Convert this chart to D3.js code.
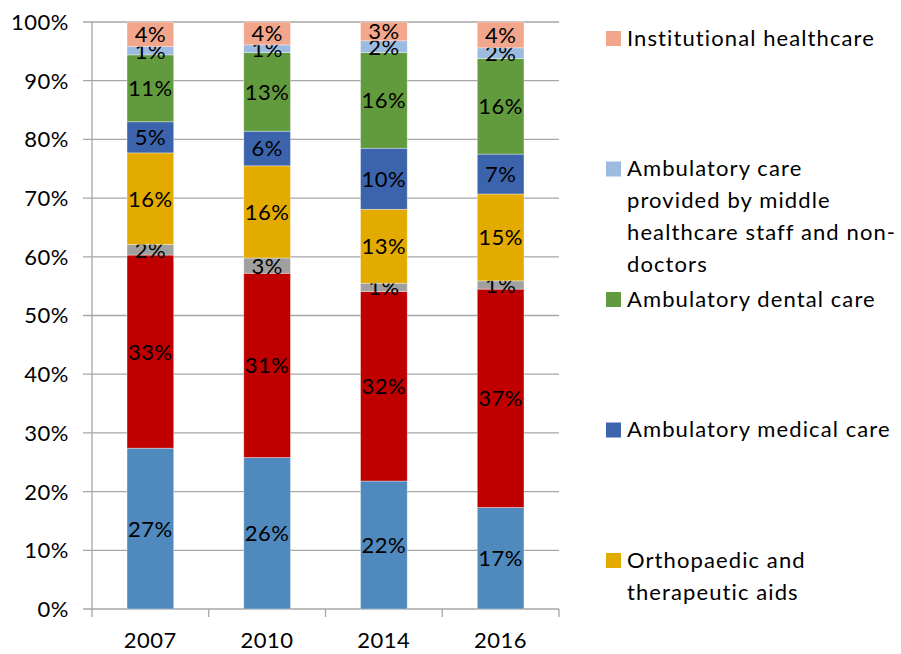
<!DOCTYPE html>
<html>
<head>
<meta charset="utf-8">
<script src="https://cdnjs.cloudflare.com/ajax/libs/d3/7.8.5/d3.min.js"></script>
<style>
  body { margin: 0; background: #fff; }
  svg text { font-family: Lato, "Open Sans", sans-serif; fill: #000; }
</style>
</head>
<body>
<svg id="chart" width="901" height="654"></svg>
<script>
// categories and series (bottom to top of stack)
var years = ["2007", "2010", "2014", "2016"];
var seriesKeys = ["base", "second", "third", "Orthopaedic and therapeutic aids",
  "Ambulatory medical care", "Ambulatory dental care",
  "Ambulatory care provided by middle healthcare staff and non-doctors",
  "Institutional healthcare"];
var seriesColors = ["#4F89BD", "#C00000", "#A0A0A0", "#E3AA00",
  "#3C64AC", "#629B3E", "#9BBBE0", "#F2A68B"];

// shares in % per year, same order as seriesKeys
var v2007 = [27.4, 32.9, 1.8, 15.6, 5.3, 11.4, 1.4, 4.2];
var v2010 = [25.8, 31.4, 2.6, 15.7, 5.9, 13.4, 1.3, 3.9];
var v2014 = [21.8, 32.3, 1.4, 12.6, 10.4, 16.3, 2.0, 3.2];
var v2016 = [17.3, 37.2, 1.4, 14.8, 6.8, 16.3, 1.8, 4.4];

var yTicks = [0, 10, 20, 30, 40, 50, 60, 70, 80, 90, 100];

// legend shows only the top five series, top first
var legendItems = [
  {key: "Institutional healthcare", lines: ["Institutional healthcare"]},
  {key: "Ambulatory care provided by middle healthcare staff and non-doctors",
    lines: ["Ambulatory care", "provided by middle", "healthcare staff and non-", "doctors"]},
  {key: "Ambulatory dental care", lines: ["Ambulatory dental care"]},
  {key: "Ambulatory medical care", lines: ["Ambulatory medical care"]},
  {key: "Orthopaedic and therapeutic aids", lines: ["Orthopaedic and", "therapeutic aids"]}
];

var allValues = [v2007, v2010, v2014, v2016];
var data = years.map(function (yr, i) {
  var row = {year: yr};
  seriesKeys.forEach(function (k, j) { row[k] = allValues[i][j]; });
  return row;
});

var margin = {top: 22, left: 92, right: 342, bottom: 45},
    width = 901 - margin.left - margin.right,
    height = 654 - margin.top - margin.bottom;

var svg = d3.select("#chart");
var g = svg.append("g").attr("transform", "translate(" + margin.left + "," + margin.top + ")");

var x = d3.scaleBand().domain(years).range([0, width]).paddingInner(0.6).paddingOuter(0.3);
var y = d3.scaleLinear().domain([0, 100]).range([height, 0]);
var color = d3.scaleOrdinal().domain(seriesKeys).range(seriesColors);

// gridlines (with little ticks left of the axis)
g.selectAll(".grid")
  .data(yTicks)
  .enter().append("line")
  .attr("x1", -9).attr("x2", width)
  .attr("y1", function (d) { return y(d); })
  .attr("y2", function (d) { return y(d); })
  .attr("stroke", "#A6A6A6")
  .attr("stroke-width", 1.3);

// y labels
g.selectAll(".ylab")
  .data(yTicks)
  .enter().append("text")
  .attr("x", -23)
  .attr("y", function (d) { return y(d); })
  .attr("dy", "0.36em")
  .attr("text-anchor", "end")
  .style("font-size", "22px")
  .style("letter-spacing", "0.5px")
  .text(function (d) { return d + "%"; });

// y axis line
g.append("line")
  .attr("x1", 0).attr("x2", 0).attr("y1", 0).attr("y2", height)
  .attr("stroke", "#A6A6A6").attr("stroke-width", 1.3);

// x axis ticks at band edges
var step = x.step();
var edges = d3.range(years.length + 1).map(function (i) { return i * step; });
g.selectAll(".xtick")
  .data(edges)
  .enter().append("line")
  .attr("x1", function (d) { return d; }).attr("x2", function (d) { return d; })
  .attr("y1", height).attr("y2", height + 8)
  .attr("stroke", "#A6A6A6").attr("stroke-width", 1.3);

g.selectAll(".xlab")
  .data(years)
  .enter().append("text")
  .attr("x", function (d) { return x(d) + x.bandwidth() / 2; })
  .attr("y", height + 39)
  .attr("text-anchor", "middle")
  .style("font-size", "22px")
  .style("letter-spacing", "0.5px")
  .text(function (d) { return d; });

// stacked bars
var stack = d3.stack().keys(seriesKeys);
var layers = stack(data);

var layer = g.selectAll(".layer")
  .data(layers)
  .enter().append("g")
  .attr("fill", function (d) { return color(d.key); });

layer.selectAll("rect")
  .data(function (d) { return d; })
  .enter().append("rect")
  .attr("x", function (d) { return x(d.data.year); })
  .attr("width", x.bandwidth())
  .attr("y", function (d) { return y(d[1]); })
  .attr("height", function (d) { return y(d[0]) - y(d[1]); })
  .attr("stroke", "rgba(255,255,255,0.5)")
  .attr("stroke-width", 0.7);

layer.selectAll("text")
  .data(function (d) { return d; })
  .enter().append("text")
  .attr("x", function (d) { return x(d.data.year) + x.bandwidth() / 2; })
  .attr("y", function (d) { return y((d[0] + d[1]) / 2); })
  .attr("dy", "0.36em")
  .attr("text-anchor", "middle")
  .style("font-size", "22px")
  .style("letter-spacing", "0.5px")
  .text(function (d) { return Math.round(d[1] - d[0]) + "%"; });

// legend
var legend = svg.append("g").attr("transform", "translate(606,38)");
var item = legend.selectAll(".item")
  .data(legendItems)
  .enter().append("g")
  .attr("transform", function (d, i) { return "translate(0," + (i * 130.5) + ")"; });

item.append("rect")
  .attr("x", 0).attr("y", -7)
  .attr("width", 15).attr("height", 15)
  .attr("fill", function (d) { return color(d.key); });

item.selectAll("text")
  .data(function (d) { return d.lines; })
  .enter().append("text")
  .attr("x", 21)
  .attr("y", function (d, i) { return i * 32; })
  .attr("dy", "0.36em")
  .style("font-size", "22px")
  .style("letter-spacing", "1.1px")
  .text(function (d) { return d; });
</script>
</body>
</html>
